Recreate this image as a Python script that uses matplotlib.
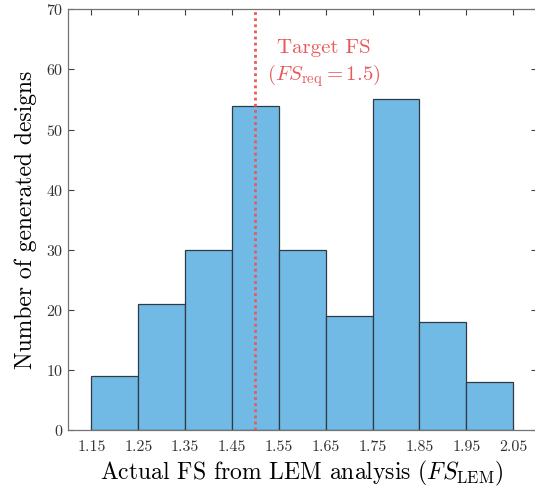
import numpy as np
import matplotlib
matplotlib.use("Agg")
import matplotlib.pyplot as plt

# ── Data ─────────────────────────────────────────────────────────────────────
bin_edges = [1.15, 1.25, 1.35, 1.45, 1.55, 1.65, 1.75, 1.85, 1.95, 2.05]
counts = [9, 21, 30, 54, 30, 19, 55, 18, 8]
tick_labels = ["1.15", "1.25", "1.35", "1.45", "1.55", "1.65", "1.75", "1.85", "1.95", "2.05"]
target_fs = 1.5

# ── Style ────────────────────────────────────────────────────────────────────
plt.rcParams["font.family"] = "serif"
plt.rcParams["font.serif"] = ["cmr10", "DejaVu Serif"]
plt.rcParams["mathtext.fontset"] = "cm"
plt.rcParams["axes.formatter.use_mathtext"] = True

BAR_COLOR = "#72bae6"
RED = "#e85a5a"

fig = plt.figure(figsize=(5.35, 4.91), dpi=100)
ax = fig.add_axes([0.127, 0.124, 0.876, 0.857])

edges = np.array(bin_edges)
ax.bar(edges[:-1], counts, width=np.diff(edges), align="edge",
       color=BAR_COLOR, edgecolor="#2f3a44", linewidth=0.9, zorder=2)

ax.axvline(target_fs, color=RED, linestyle=(0, (1, 1.2)), linewidth=2, zorder=3)
ax.text(1.645, 63.5, "Target FS", color=RED, fontsize=15, ha="center", va="center")
ax.text(1.645, 59.0, r"$(FS_{\mathrm{req}} = 1.5)$", color=RED, fontsize=15,
        ha="center", va="center")

ax.set_xlim(1.1, 2.1)
ax.set_ylim(0, 70)
ax.set_xticks(bin_edges)
ax.set_xticklabels(tick_labels)
ax.set_yticks(np.arange(0, 71, 10))

ax.tick_params(direction="in", length=4, width=0.8, colors="0.25",
               labelsize=11.5, top=True, right=True, labelcolor="0.2")
ax.tick_params(axis="x", pad=7)
for s in ax.spines.values():
    s.set_color("0.45")
    s.set_linewidth(0.9)

ax.set_xlabel(r"Actual FS from LEM analysis $(FS_{\mathrm{LEM}})$", fontsize=17,
              labelpad=4)
ax.set_ylabel("Number of generated designs", fontsize=17, labelpad=6)

fig.savefig("out.png", dpi=100)
